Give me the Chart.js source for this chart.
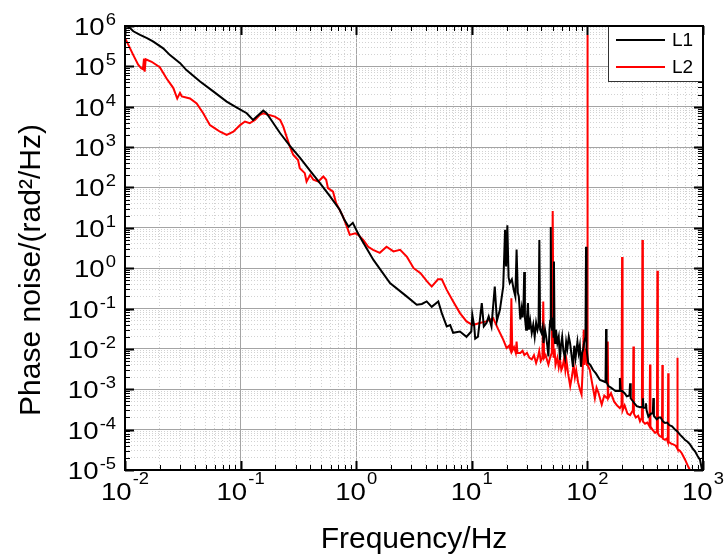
<!DOCTYPE html>
<html lang="en">
<head>
<meta charset="UTF-8">
<title>Phase noise</title>
<script src="https://cdn.jsdelivr.net/npm/chart.js"></script>
<style>
  html, body { margin: 0; padding: 0; background: #fff; }
  #wrap { width: 726px; height: 556px; }
</style>
</head>
<body>
<div id="wrap"><canvas id="noiseChart" width="726" height="556"></canvas></div>
<script>
// frequency (Hz) and phase noise (rad^2/Hz)
const l1Freq = [0.0103, 0.011, 0.0118, 0.0135, 0.0155, 0.0176, 0.0214, 0.0245, 0.03, 0.034,
  0.0446, 0.058, 0.0758, 0.092, 0.113, 0.128, 0.157, 0.167, 0.184, 0.22,
  0.267, 0.327, 0.4, 0.486, 0.59, 0.72, 0.79, 0.86, 0.935, 1.02,
  1.11, 1.41, 1.96, 2.73, 3.34, 3.7, 4.07, 4.5, 5.13, 5.5,
  6.07, 6.5, 6.9, 7.9, 9.0, 9.9, 10.1, 10.5, 10.7, 11.3,
  12.2, 12.7, 13.4, 14.0, 14.8, 15.8, 16.5, 17.5, 18.7, 19.4,
  19.8, 20.3, 20.8, 21.3, 22.2, 23.0, 23.8, 24.4, 25.0, 25.5,
  26.3, 27.0, 27.5, 28.0, 28.4, 28.8, 29.5, 30.0, 30.6, 31.2,
  32.0, 33.0, 34.0, 35.0, 36.0, 37.0, 37.8, 38.4, 39.0, 40.0,
  41.0, 41.7, 43.0, 44.0, 45.0, 46.0, 47.0, 47.6, 48.2, 48.8,
  49.5, 50.3, 50.9, 51.4, 52.0, 52.5, 53.5, 55.0, 56.5, 57.9,
  59.0, 60.5, 62.0, 64.0, 65.5, 67.0, 69.0, 70.8, 72.5, 75.0,
  77.0, 79.0, 82.0, 84.0, 86.0, 88.0, 90.0, 91.7, 94.0, 96.3,
  97.3, 98.3, 101.6, 106, 112, 118, 128.5, 136, 143.5, 145,
  146.5, 152, 160, 167, 175, 188, 191, 194, 200, 210,
  219, 231, 234, 237, 242, 255, 267, 285, 298, 302,
  306, 318, 321, 325, 337, 355, 368, 372, 376, 398,
  415, 430, 450, 469, 490, 510, 540, 573, 600, 632,
  665, 700, 735, 772, 810, 853, 900, 942, 975, 1000];
const l1Val = [1.0e6, 9.0e5, 7.4e5, 6.0e5, 5.0e5, 4.1e5, 2.8e5, 1.9e5, 1.2e5, 8.1e4,
  4.2e4, 2.4e4, 1.34e4, 9.7e3, 6.9e3, 4.7e3, 8.0e3, 7.0e3, 4.7e3, 2.2e3,
  1070, 540, 257, 128, 62, 28, 15.8, 10.6, 13.3, 8.0,
  5.1, 1.6, 0.43, 0.20, 0.124, 0.13, 0.15, 0.11, 0.15, 0.077,
  0.036, 0.039, 0.025, 0.027, 0.020, 0.027, 0.070, 0.036, 0.018, 0.020,
  0.137, 0.036, 0.044, 0.064, 0.036, 0.35, 0.050, 0.093, 0.35, 8.9,
  1.1, 11.5, 0.6, 0.43, 0.53, 0.30, 0.20, 2.9, 0.25, 0.20,
  0.054, 0.10, 0.06, 0.12, 0.80, 0.06, 0.03, 0.06, 0.137, 0.03,
  0.05, 0.025, 0.04, 0.020, 0.045, 0.03, 0.04, 5.0, 0.03, 0.025,
  0.035, 0.014, 0.03, 0.020, 0.012, 0.0065, 0.03, 0.05, 10.5, 0.04,
  0.03, 0.06, 0.02, 1.47, 0.02, 0.014, 0.03, 0.014, 0.02, 0.0054,
  0.012, 0.020, 0.009, 0.006, 0.015, 0.010, 0.020, 0.014, 0.008, 0.0036,
  0.012, 0.006, 0.015, 0.008, 0.012, 0.0036, 0.008, 0.0095, 0.015, 0.02,
  3.4, 0.01, 0.0045, 0.004, 0.003, 0.0025, 0.0017, 0.0016, 0.0015, 0.031,
  0.0015, 0.0012, 0.0011, 0.001, 0.0009, 0.0009, 0.0019, 0.0009, 0.0009, 0.0008,
  0.00067, 0.0007, 0.0014, 0.0006, 0.00055, 0.00045, 0.00038, 0.00036, 0.00037, 0.0006,
  0.00035, 0.00035, 0.00045, 0.0003, 0.00021, 0.00025, 0.00025, 0.00061, 0.00022, 0.00018,
  0.0002, 0.0002, 1.6e-4, 1.46e-4, 1.5e-4, 1.3e-4, 1.2e-4, 1.0e-4, 9e-5, 7.5e-5,
  6.5e-5, 5.5e-5, 5e-5, 4.3e-5, 3.5e-5, 2.9e-5, 2.2e-5, 1.8e-5, 1.1e-5, 8e-6];

const l2Freq = [0.01, 0.0107, 0.0118, 0.013, 0.0138, 0.0143, 0.0146, 0.0148, 0.0151, 0.017,
  0.02, 0.0229, 0.0262, 0.0283, 0.0299, 0.031, 0.0365, 0.0417, 0.0475, 0.0543,
  0.06, 0.0664, 0.0758, 0.0866, 0.099, 0.109, 0.12, 0.133, 0.147, 0.157,
  0.174, 0.198, 0.22, 0.234, 0.25, 0.267, 0.285, 0.314, 0.325, 0.359,
  0.372, 0.4, 0.426, 0.47, 0.52, 0.55, 0.57, 0.63, 0.67, 0.77,
  0.85, 0.88, 0.98, 1.04, 1.15, 1.27, 1.4, 1.6, 1.83, 2.1,
  2.4, 2.75, 3.14, 3.6, 4.1, 4.5, 5.1, 5.5, 6.07, 6.9,
  7.9, 9.0, 10.2, 11.7, 13.4, 15.3, 16.9, 18.7, 20.0, 21.0,
  21.6, 22.0, 22.4, 23.2, 24.0, 24.4, 24.8, 26.3, 27.5, 28.5,
  30.0, 31.5, 33.0, 34.5, 36.0, 37.2, 38.3, 39.5, 40.8, 41.5,
  42.2, 43.5, 45.0, 46.0, 47.5, 49.2, 50.1, 51.0, 52.0, 53.0,
  55.0, 56.5, 58.0, 59.5, 61.0, 63.0, 64.5, 66.0, 68.0, 71.0,
  73.5, 76.0, 78.0, 80.0, 83.0, 86.0, 89.0, 91.0, 93.0, 94.5,
  96.5, 99.3, 100, 100.7, 105, 109, 116, 120, 125, 133,
  140, 148.5, 150, 151.5, 160, 170, 180, 191, 197.5, 199.5,
  201.5, 210, 222, 234, 247.5, 250, 252.5, 262, 275, 285,
  296, 299, 302, 315, 330, 345, 348, 351, 365, 385,
  399, 403, 407, 420, 441, 445, 449, 469, 485, 496,
  500, 504, 530, 553, 580, 596, 600, 604, 630, 655,
  700, 746, 800];
const l2Val = [5.0e5, 3.4e5, 1.9e5, 1.1e5, 9.0e4, 8.5e4, 1.55e5, 7.4e4, 1.5e5, 1.3e5,
  9.5e4, 5.0e4, 2.9e4, 1.6e4, 2.2e4, 1.8e4, 1.6e4, 1.2e4, 6.9e3, 3.5e3,
  2.9e3, 2.4e3, 2.0e3, 2.4e3, 3.5e3, 4.3e3, 3.9e3, 4.7e3, 6.3e3, 6.9e3,
  6.3e3, 5.7e3, 4.7e3, 3.2e3, 1.8e3, 1030, 645, 480, 300, 226,
  140, 205, 155, 140, 186, 155, 96, 79, 41, 19,
  8.9, 6.7, 7.3, 6.7, 5.0, 3.4, 2.85, 2.4, 3.4, 2.6,
  2.85, 1.9, 1.0, 0.75, 0.47, 0.35, 0.53, 0.53, 0.29, 0.15,
  0.077, 0.048, 0.039, 0.044, 0.048, 0.058, 0.031, 0.017, 0.0105, 0.012,
  0.0095, 0.18, 0.009, 0.011, 0.008, 0.0153, 0.008, 0.0079, 0.009, 0.007,
  0.008, 0.006, 0.0055, 0.007, 0.0045, 0.006, 0.0089, 0.005, 0.006, 0.15,
  0.006, 0.007, 0.005, 0.0041, 0.006, 0.008, 26, 0.006, 0.01, 0.004,
  0.006, 0.0035, 0.0055, 0.003, 0.0036, 0.006, 0.003, 0.005, 0.0025, 0.0012,
  0.0021, 0.004, 0.002, 0.003, 0.0015, 0.001, 0.00074, 0.003, 0.03, 0.004,
  0.01, 0.004, 6.0e5, 0.004, 0.003, 0.0016, 0.0006, 0.0011, 0.0008, 0.00042,
  0.0007, 0.0006, 0.0153, 0.0006, 0.0008, 0.0005, 0.0004, 0.00034, 0.0004, 1.9,
  0.0003, 0.0004, 0.00025, 0.00023, 0.0003, 0.0115, 0.00025, 0.0002, 0.00022, 0.00016,
  0.0002, 5.0, 0.00016, 0.00014, 0.00015, 0.00012, 0.0041, 0.00012, 0.0001, 8.3e-5,
  9e-5, 0.86, 8e-5, 7e-5, 6.5e-5, 0.004, 6e-5, 5.6e-5, 6e-5, 5e-5,
  0.0025, 5e-5, 4.5e-5, 4.3e-5, 4e-5, 3.5e-5, 0.006, 3.3e-5, 3e-5, 2.6e-5,
  1.8e-5, 1.2e-5, 8e-6];

const seriesNames = ['L1', 'L2'];
const seriesColors = ['#000000', '#ff0000'];
const xDecades = [-2, 3];
const yDecades = [-5, 6];

const FONT = '"Liberation Sans", Arial, sans-serif';

function toPoints(fs, vs) {
    return fs.map((f, i) => ({ x: f, y: vs[i] }));
}

// 1..9 x 10^n ticks, powers of ten are the major ones
function logTicks(range) {
    const out = [];
    for (let e = range[0]; e <= range[1]; e++) {
        for (let m = 1; m <= 9; m++) {
            if (e === range[1] && m > 1) break;
            out.push({ value: parseFloat((m * Math.pow(10, e)).toPrecision(6)), major: m === 1 });
        }
    }
    return out;
}

function gridAxis(range) {
    return {
        type: 'logarithmic',
        min: Math.pow(10, range[0]),
        max: Math.pow(10, range[1]),
        afterBuildTicks: (axis) => { axis.ticks = logTicks(range); },
        ticks: { display: false },
        grid: {
            drawTicks: false,
            color: (c) => (c.tick && c.tick.major) ? '#a4a4a4' : '#d2d2d2',
            lineWidth: 1
        },
        border: {
            display: false,
            dash: (c) => (c.tick && c.tick.major) ? [] : [1, 2]
        }
    };
}

// "10" with a raised exponent
function powLabel(ctx, exp, x, base, align, supBase) {
    const sx = 1.15;
    const e = String(exp);
    ctx.font = '24px ' + FONT;
    const w1 = ctx.measureText('10').width;
    ctx.font = '16px ' + FONT;
    const w2 = ctx.measureText(e).width;
    const total = (w1 + w2 + 1) * sx;
    const x0 = align === 'center' ? x - total / 2 : x - total;
    ctx.save();
    ctx.translate(x0, 0);
    ctx.scale(sx, 1);
    ctx.fillStyle = '#000';
    ctx.textAlign = 'left';
    ctx.textBaseline = 'alphabetic';
    ctx.font = '24px ' + FONT;
    ctx.fillText('10', 0, base);
    ctx.font = '16px ' + FONT;
    ctx.fillText(e, w1 + 1, supBase);
    ctx.restore();
}

const decor = {
    id: 'decor',
    afterDatasetsDraw(chart) {
        const ctx = chart.ctx;
        const a = chart.chartArea;
        const xs = chart.scales.x;
        const ys = chart.scales.y;

        // inward tick marks on all four sides
        ctx.save();
        ctx.strokeStyle = '#000';
        xs.ticks.forEach(t => {
            const px = Math.round(xs.getPixelForValue(t.value)) + 0.5;
            const len = t.major ? 9 : 5;
            ctx.lineWidth = t.major ? 2 : 1;
            ctx.beginPath();
            ctx.moveTo(px, a.bottom); ctx.lineTo(px, a.bottom - len);
            ctx.moveTo(px, a.top); ctx.lineTo(px, a.top + len);
            ctx.stroke();
        });
        ys.ticks.forEach(t => {
            const py = Math.round(ys.getPixelForValue(t.value)) + 0.5;
            const len = t.major ? 9 : 5;
            ctx.lineWidth = t.major ? 2 : 1;
            ctx.beginPath();
            ctx.moveTo(a.left, py); ctx.lineTo(a.left + len, py);
            ctx.moveTo(a.right, py); ctx.lineTo(a.right - len, py);
            ctx.stroke();
        });
        ctx.restore();

        // legend box in the top right corner
        ctx.save();
        const lx = a.right - 95, ly = a.top, lw = 95, lh = 56;
        ctx.fillStyle = '#fff';
        ctx.fillRect(lx, ly, lw, lh);
        ctx.strokeStyle = '#333';
        ctx.lineWidth = 1;
        ctx.strokeRect(lx + 0.5, ly + 0.5, lw - 1, lh - 1);
        chart.data.datasets.forEach((ds, i) => {
            const yy = ly + 14 + i * 27;
            ctx.strokeStyle = ds.borderColor;
            ctx.lineWidth = 2;
            ctx.beginPath();
            ctx.moveTo(lx + 8, yy); ctx.lineTo(lx + 57, yy);
            ctx.stroke();
            ctx.fillStyle = '#000';
            ctx.font = '19px ' + FONT;
            ctx.textBaseline = 'middle';
            ctx.textAlign = 'left';
            ctx.fillText(ds.label, lx + 64, yy + 1);
        });
        ctx.restore();

        // plot frame
        ctx.save();
        ctx.strokeStyle = '#000';
        ctx.lineWidth = 2;
        ctx.strokeRect(a.left, a.top, a.right - a.left, a.bottom - a.top);
        ctx.restore();

        // tick labels
        xs.ticks.filter(t => t.major).forEach(t => {
            const px = xs.getPixelForValue(t.value);
            powLabel(ctx, Math.round(Math.log10(t.value)), px, a.bottom + 30, 'center', a.bottom + 14);
        });
        ys.ticks.filter(t => t.major).forEach(t => {
            const py = ys.getPixelForValue(t.value);
            powLabel(ctx, Math.round(Math.log10(t.value)), 116, py + 9, 'right', py - 1);
        });

        // axis titles
        ctx.save();
        ctx.fillStyle = '#000';
        ctx.font = '30px ' + FONT;
        ctx.textAlign = 'center';
        ctx.textBaseline = 'alphabetic';
        ctx.fillText('Frequency/Hz', (a.left + a.right) / 2, 548);
        ctx.translate(40, 270);
        ctx.rotate(-Math.PI / 2);
        ctx.fillText('Phase noise/(rad\u00B2/Hz)', 0, 0);
        ctx.restore();
    }
};

const chart = new Chart(document.getElementById('noiseChart'), {
    type: 'line',
    data: {
        datasets: [
            {
                label: seriesNames[0],
                data: toPoints(l1Freq, l1Val),
                borderColor: seriesColors[0],
                borderWidth: 2,
                pointRadius: 0,
                tension: 0
            },
            {
                label: seriesNames[1],
                data: toPoints(l2Freq, l2Val),
                borderColor: seriesColors[1],
                borderWidth: 2,
                pointRadius: 0,
                tension: 0
            }
        ]
    },
    options: {
        responsive: false,
        animation: false,
        devicePixelRatio: 1,
        layout: { padding: { left: 125, top: 26, right: 23, bottom: 86 } },
        plugins: {
            legend: { display: false },
            tooltip: { enabled: false }
        },
        scales: {
            x: gridAxis(xDecades),
            y: gridAxis(yDecades)
        }
    },
    plugins: [decor]
});
</script>
</body>
</html>
